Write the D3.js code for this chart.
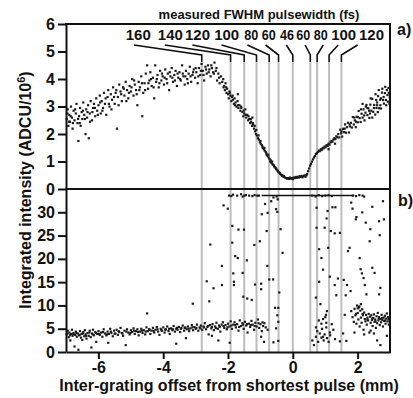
<!DOCTYPE html>
<html>
<head>
<meta charset="utf-8">
<script src="https://cdn.jsdelivr.net/npm/d3@7"></script>
<style>
  body { margin: 0; background: #fff; }
  svg { display: block; font-family: "Liberation Sans", Arial, sans-serif; }
  .tick text { font-weight: bold; font-size: 16px; fill: #111; }
</style>
</head>
<body>
<div id="chart"></div>
<script>
// measured FWHM pulse widths and the grating offsets (mm) where they were taken
var pulseLabels = ["160","140","120","100","80","60","46","60","80","100","120"];
var pulseOffsets = [-2.81,-1.92,-1.5,-1.12,-0.73,-0.44,0,0.54,0.75,1.12,1.5];

var xTicks = [-6,-4,-2,0,2];
var yTicksA = [0,1,2,3,4,5,6];
var yTicksB = [0,5,10,15,20,25,30];

// detector saturation level in panel b
var satLevel = 33.6;
var satRange = [-0.96, 1.9];

// panel a: integrated intensity (ADCU/10^6) vs offset (mm)
var pointsA = [
[-6.98,2.55],[-6.95,2.9],[-6.93,2.3],[-6.9,2.7],[-6.88,2.45],[-6.85,3.0],[-6.82,2.6],[-6.8,2.2],[-6.77,2.85],[-6.74,2.5],[-6.7,2.75],[-6.68,3.1],[-6.65,2.4],[-6.62,1.75],[-6.6,2.65],[-6.57,2.95],[-6.55,2.3],[-6.52,2.8],[-6.5,2.55],[-6.47,3.15],[-6.44,2.7],[-6.4,2.0],[-6.38,2.9],[-6.35,2.6],[-6.32,3.05],[-6.3,1.85],[-6.27,2.75],[-6.24,3.2],[-6.2,2.5],[-6.17,2.95],[-6.14,3.1],[-6.1,2.65],[-6.07,3.3],[-6.04,2.85],[-6.0,3.05],[-5.96,3.4],[-5.93,2.75],[-5.9,3.2],[-5.86,2.95],[-5.83,3.5],[-5.8,3.1],[-5.76,2.7],[-5.72,3.35],[-5.7,3.6],[-5.66,3.0],[-5.62,3.45],[-5.58,3.25],[-5.55,3.7],[-5.5,3.1],[-5.47,3.5],[-5.43,2.2],[-5.4,3.35],[-5.36,3.8],[-5.32,3.55],[-5.28,3.2],[-5.24,3.7],[-5.2,3.4],[-5.16,3.9],[-5.12,3.6],[-5.08,3.3],[-5.04,3.75],[-5.0,3.55],[-4.96,4.0],[-4.92,3.4],[-4.88,3.8],[-4.84,3.6],[-4.8,3.05],[-4.76,3.9],[-4.72,3.7],[-4.68,4.1],[-4.65,2.65],[-4.62,3.5],[-4.58,3.85],[-4.54,4.2],[-4.5,4.5],[-4.47,3.65],[-4.43,3.95],[-4.4,4.25],[-4.36,3.75],[-4.32,4.05],[-4.28,3.3],[-4.25,4.5],[-4.22,3.9],[-4.18,4.15],[-4.14,3.7],[-4.1,4.3],[-4.06,3.95],[-4.02,4.1],[-3.98,3.8],[-3.94,4.35],[-3.9,4.0],[-3.86,4.2],[-3.82,3.6],[-3.78,4.1],[-3.74,4.4],[-3.7,3.9],[-3.66,4.15],[-3.62,4.3],[-3.58,3.75],[-3.54,4.05],[-3.5,4.25],[-3.46,3.95],[-3.42,4.5],[-3.38,4.1],[-3.34,3.8],[-3.3,4.3],[-3.26,4.0],[-3.22,4.2],[-3.18,4.45],[-3.14,3.9],[-3.1,4.15],[-3.06,4.35],[-3.02,4.05],[-2.98,4.25],[-2.94,3.85],[-2.9,4.4],[-2.86,4.15],[-2.82,4.55],[-2.78,4.3],[-2.74,3.95],[-2.7,4.45],[-2.66,4.2],[-2.62,4.5],[-2.58,4.35],[-2.54,4.1],[-2.5,4.4],[-2.46,4.25],[-2.42,4.6],[-2.38,4.3],[-2.34,3.95],[-2.3,4.2],[-2.26,3.85],[-2.22,4.1],
[-6.96,2.75],[-6.91,2.45],[-6.86,2.65],[-6.79,2.4],[-6.72,2.9],[-6.63,2.55],[-6.58,2.4],[-6.48,2.85],[-6.42,2.55],[-6.34,2.8],[-6.26,2.45],[-6.19,2.8],[-6.11,2.95],[-6.02,2.7],[-5.95,3.15],[-5.88,2.85],[-5.78,3.3],[-5.68,3.1],[-5.6,2.9],[-5.52,3.35],[-5.45,3.6],[-5.38,3.05],[-5.3,3.45],[-5.22,3.65],[-5.14,3.2],[-5.06,3.5],[-4.98,3.7],[-4.9,3.95],[-4.82,3.45],[-4.74,3.6],[-4.66,3.85],[-4.56,3.6],[-4.46,3.85],[-4.38,4.0],[-4.3,3.7],[-4.2,4.0],[-4.12,3.85],[-4.04,4.2],[-3.96,4.05],[-3.88,3.85],[-3.8,4.25],[-3.72,4.05],[-3.64,3.95],[-3.56,4.2],[-3.48,4.0],[-3.4,4.2],[-3.32,4.1],[-3.24,3.85],[-3.16,4.1],[-3.08,4.25],[-3.0,4.4],[-2.92,4.1],[-2.84,4.3],[-2.76,4.15],[-2.68,4.35],[-2.6,4.25],[-2.52,4.5],[-2.44,4.2],[-2.36,4.4],[-2.28,4.05],
[-2.18,3.9],[-2.15,4.0],[-2.12,3.75],[-2.1,3.6],[-2.08,3.85],[-2.05,3.5],[-2.03,3.65],[-2.0,3.45],[-1.98,3.3],[-1.96,3.55],[-1.93,3.4],[-1.9,3.2],[-1.88,3.35],[-1.85,3.25],[-1.82,3.1],[-1.8,3.3],[-1.77,3.15],[-1.74,3.0],[-1.71,3.2],[-1.68,2.95],[-1.65,3.05],[-1.62,2.85],[-1.59,2.95],[-1.56,2.8],[-1.53,2.65],[-1.5,2.75],[-1.47,2.9],[-1.44,2.6],[-1.41,2.7],[-1.38,2.5],[-1.35,2.55],[-1.32,2.4],[-1.29,2.45],[-1.26,2.3],[-1.23,2.35],[-1.2,2.2],[-1.17,2.1],[-1.14,2.0],[-1.11,1.95],[-1.08,1.85],[-1.05,1.8],[-1.02,1.7],[-0.99,1.65],[-0.96,1.6],[-0.93,1.5],[-0.9,1.45],[-0.87,1.4],[-0.84,1.35],[-0.81,1.25],[-0.78,1.2],[-0.75,1.15],[-0.72,1.1],[-0.69,1.05],[-0.66,0.95],[-0.63,0.9],[-0.6,0.88],[-0.57,0.8],[-0.54,0.78],[-0.51,0.72],[-0.48,0.68],[-0.45,0.62],[-0.42,0.6],[-0.39,0.55],[-0.36,0.52],[-0.33,0.5],[-0.3,0.46],[-0.27,0.44],[-0.24,0.42],[-0.21,0.4],[-0.18,0.38],
[-2.14,3.7],[-2.06,3.7],[-1.95,3.5],[-1.86,3.4],[-1.79,3.05],[-1.7,3.05],[-1.6,3.0],[-1.52,2.85],[-1.46,2.7],[-1.37,2.65],[-1.3,2.55],[-1.24,2.4],[-1.18,2.3],[-1.13,2.15],[-1.06,1.95],[-1.0,1.75],[-0.94,1.55],[-0.88,1.5],[-0.82,1.3],[-0.76,1.25],[-0.7,1.0],[-0.64,1.0],[-0.58,0.85],[-0.52,0.75],[-0.46,0.65],[-0.4,0.58],[-0.34,0.48],[-0.28,0.48],[-1.25,2.6],[-1.7,3.45],
[-0.15,0.4],[-0.12,0.37],[-0.09,0.42],[-0.06,0.38],[-0.03,0.4],[0.0,0.36],[0.03,0.42],[0.06,0.4],[0.09,0.44],[0.12,0.41],[0.15,0.45],[0.18,0.42],[0.21,0.47],[0.24,0.44],[0.27,0.48],[0.3,0.43],[0.33,0.47],[0.36,0.5],[0.39,0.45],[0.42,0.5],
[0.44,0.55],[0.47,0.65],[0.5,0.75],[0.53,0.85],[0.56,0.92],[0.59,1.0],[0.62,1.08],[0.65,1.15],[0.68,1.2],[0.71,1.28],[0.74,1.3],[0.77,1.35],[0.8,1.4],[0.83,1.38],[0.86,1.45],[0.89,1.42],[0.92,1.5],[0.95,1.48],[0.98,1.55],[1.01,1.52],[1.04,1.6],[1.07,1.57],[1.1,1.65],[1.13,1.62],[1.16,1.7],[1.19,1.75],[1.22,1.72],[1.25,1.8],[1.28,1.85],[1.31,1.82],[1.34,1.92],[1.37,1.88],
[1.4,2.0],[1.43,1.88],[1.46,2.16],[1.49,2.03],[1.52,1.91],[1.55,2.19],[1.58,2.07],[1.61,2.35],[1.64,2.05],[1.67,2.25],[1.7,2.41],[1.73,2.06],[1.76,2.28],[1.79,2.41],[1.82,2.24],[1.85,2.62],[1.88,2.35],[1.91,2.5],[1.94,2.25],[1.97,2.63],[2.0,2.43],[2.03,2.84],[2.06,2.58],[2.09,2.44],[2.12,2.74],[2.15,2.6],[2.18,2.9],[2.21,2.5],[2.24,2.78],[2.27,3.06],[2.3,2.69],[2.33,2.94],[2.36,2.59],[2.39,3.07],[2.42,2.85],[2.45,3.28],[2.48,2.81],[2.51,3.06],[2.54,2.71],[2.57,3.24],[2.6,3.05],[2.63,3.38],[2.66,2.94],[2.69,3.25],[2.72,2.93],[2.75,3.51],[2.78,3.24],[2.81,3.11],[2.84,3.49],[2.87,3.24],[2.9,3.6],[2.93,3.18],[2.96,3.5],[2.99,3.33],
[1.5,2.1],[1.6,2.2],[1.75,2.35],[1.9,2.6],[2.0,2.62],[2.1,2.9],[2.2,2.68],[2.25,3.0],[2.35,2.85],[2.4,3.3],[2.5,2.95],[2.55,3.45],[2.6,3.15],[2.65,3.6],[2.7,3.05],[2.76,3.65],[2.8,3.35],[2.85,3.72],[2.88,3.05],[2.95,3.68],[2.98,3.1],[2.3,2.95],[1.3,1.65],[1.1,1.45],[2.45,2.6],[2.62,2.8],[1.95,2.45],[2.15,3.1],[2.38,2.75],[2.58,2.95],[2.72,3.3],[2.92,3.42]
];

// panel b: integrated intensity, second detector
var pointsB = [
[-6.98,3.8],[-6.95,4.6],[-6.92,3.2],[-6.9,4.2],[-6.87,2.5],[-6.85,3.9],[-6.82,4.8],[-6.8,3.5],[-6.77,4.1],[-6.74,1.2],[-6.72,3.7],[-6.7,4.4],[-6.67,3.3],[-6.64,4.0],[-6.62,0.5],[-6.6,3.6],[-6.57,4.5],[-6.54,3.1],[-6.52,3.9],[-6.5,2.6],[-6.47,4.3],[-6.44,3.4],[-6.42,4.7],[-6.4,3.8],[-6.37,2.9],[-6.34,4.1],[-6.3,3.5],[-6.27,4.6],[-6.24,3.2],[-6.2,4.0],[-6.17,4.8],[-6.14,3.6],[-6.1,4.3],[-6.07,2.2],[-6.04,3.9],[-6.0,4.5],[-5.96,3.7],[-5.92,4.2],[-5.88,3.3],[-5.84,4.9],[-5.8,4.0],[-5.76,3.6],[-5.72,4.4],[-5.68,3.9],[-5.64,5.0],[-5.6,4.1],[-5.56,3.4],[-5.52,4.6],[-5.48,4.0],[-5.44,4.8],[-5.4,3.7],[-5.36,4.3],[-5.32,5.2],[-5.28,4.1],[-5.24,3.5],[-5.2,4.6],[-5.16,1.5],[-5.12,4.9],[-5.08,4.2],[-5.04,3.8],[-5.0,4.7],[-4.96,4.3],[-4.92,5.1],[-4.88,3.9],[-4.84,4.5],[-4.8,4.9],[-4.76,3.6],[-4.72,4.4],[-4.68,5.0],[-4.64,4.1],[-4.6,4.7],[-4.56,3.8],[-4.52,5.3],[-4.5,8.3],[-4.48,4.5],[-4.44,4.9],[-4.4,3.9],[-4.36,4.6],[-4.32,5.2],[-4.28,4.2],[-4.24,4.8],[-4.2,5.4],[-4.16,4.4],[-4.12,3.7],[-4.08,5.0],[-4.04,4.6],[-4.0,5.3],[-3.96,4.2],[-3.92,4.9],[-3.88,5.5],[-3.84,4.5],[-3.8,3.9],[-3.76,5.1],[-3.72,4.7],[-3.68,5.6],[-3.64,4.4],[-3.6,5.0],[-3.56,4.8],[-3.52,5.4],[-3.48,4.3],[-3.44,5.2],[-3.4,5.7],[-3.36,4.6],[-3.32,5.3],[-3.28,4.9],[-3.24,5.5],[-3.2,4.5],[-3.16,5.1],[-3.12,5.8],[-3.08,4.7],[-3.04,5.4],[-3.0,5.0],[-2.96,5.9],[-2.92,4.6],[-2.88,5.3],[-2.84,5.7],[-2.8,4.8],[-2.76,5.5],[-2.72,6.2],[-2.68,4.9],[-2.64,5.4],[-2.6,3.8],[-2.56,5.8],[-2.52,5.1],[-2.48,6.0],[-2.44,4.7],[-2.4,5.5],[-2.36,6.3],[-2.32,5.0],[-2.28,5.7],[-2.24,4.4],[-2.2,5.9],[-2.16,6.4],[-2.12,5.2],[-2.08,5.8],[-2.04,4.9],[-2.0,6.1],[-1.96,5.5],[-1.92,6.6],[-1.88,5.0],[-1.84,5.9],[-1.8,6.4],[-1.76,5.3],[-1.72,6.0],[-1.68,4.6],[-1.64,6.8],[-1.6,5.6],[-1.56,6.2],[-1.52,5.0],[-1.48,6.5],[-1.44,5.7],[-1.4,4.2],[-1.36,6.1],[-1.32,5.4],[-1.28,6.7],[-1.24,5.9],[-1.2,4.8],[-1.16,6.3],[-1.12,5.5],[-1.08,7.0],[-1.04,5.2],[-1.0,6.0],[-0.96,4.5],[-0.92,5.6],[-0.88,6.2],
[-6.96,4.0],[-6.88,3.6],[-6.78,3.9],[-6.68,4.1],[-6.58,3.7],[-6.48,4.0],[-6.38,3.5],[-6.28,4.2],[-6.18,3.8],[-6.08,4.1],[-5.98,3.9],[-5.86,4.3],[-5.74,3.8],[-5.62,4.4],[-5.5,3.9],[-5.38,4.5],[-5.26,4.0],[-5.14,4.4],[-5.02,4.1],[-4.9,4.6],[-4.78,4.3],[-4.66,4.6],[-4.54,4.4],[-4.42,4.8],[-4.3,4.5],[-4.18,4.9],[-4.06,4.7],[-3.94,4.8],[-3.82,5.0],[-3.7,4.9],[-3.58,5.2],[-3.46,5.0],[-3.34,5.2],[-3.22,5.0],[-3.1,5.3],[-2.98,5.2],[-2.86,5.1],[-2.74,5.3],[-2.62,5.6],[-2.5,5.4],[-2.38,5.2],[-2.26,5.4],[-2.14,5.6],[-2.02,5.3],[-1.9,5.7],[-1.78,5.8],[-1.66,5.4],[-1.54,5.9],[-1.42,6.0],[-1.3,5.8],[-1.18,5.6],[-1.06,6.2],[-0.94,6.4],[-0.84,5.3],
[-6.22,1.0],[-5.7,2.0],[-3.6,1.8],[-3.3,3.0],[-2.3,2.5],[-1.95,2.0],[-2.5,3.5],[-0.6,2.1],[-0.98,3.3],[-0.78,4.8],
[-2.55,23.1],[-2.66,15.2],[-2.58,10.9],[-3.09,10.4],[-2.19,18.5],[-2.19,14.4],[-2.45,13.7],[-2.14,31.5],[-2.01,30.8],[-1.87,27.1],[-1.87,23.5],[-1.78,20.6],[-1.7,20.2],[-1.84,16.9],[-1.82,15.1],[-1.82,14.4],[-1.68,26.3],[-1.51,26.3],[-1.55,17.0],[-1.53,11.9],[-1.42,19.7],[-1.41,11.5],[-1.27,11.2],[-1.19,23.0],[-1.17,14.5],[-1.02,23.8],[-0.98,14.7],[-0.98,13.5],[-0.96,29.6],[-0.86,31.8],[-0.78,29.9],[-0.81,26.0],[-0.79,18.5],[-0.73,15.6],[-0.61,15.6],[-0.67,32.4],[-0.52,30.7],[-0.48,30.1],[-0.47,32.8],[-0.38,26.4],[-0.32,21.3],[-0.42,12.8],[-0.45,9.5],[-0.55,9.5],[-0.48,7.9],[-0.45,6.5],[-0.52,5.1],[-0.45,2.4],[-0.89,2.2],
[0.73,31.0],[0.73,26.7],[0.71,11.7],[0.81,22.1],[0.81,15.1],[0.88,20.2],[0.93,17.7],[0.98,26.7],[1.04,28.7],[1.07,30.3],[1.09,22.4],[1.14,16.2],[1.17,26.0],[1.22,31.1],[1.31,31.1],[1.29,25.5],[1.39,15.8],[1.29,14.4],[1.34,12.2],[1.45,25.6],[1.57,15.5],[1.63,12.2],[1.67,14.4],[1.7,21.7],[1.75,22.4],[1.78,13.1],[1.84,30.8],[1.94,28.5],[1.8,32.1],[1.96,29.0],[2.06,20.2],[2.09,17.8],[2.13,16.9],[2.18,15.9],[2.22,14.4],[2.27,12.4],[2.14,30.0],[2.25,27.8],[2.39,26.4],[2.37,23.8],[2.45,31.2],[2.52,17.0],[2.66,28.1],[2.68,25.1],[2.7,13.8],[2.66,12.4],[2.78,32.4],[2.81,28.5],[2.45,18.1],
[0.71,3.3],[0.78,2.2],[0.83,4.0],[0.88,3.1],[0.93,3.3],[0.98,3.8],[1.03,5.3],[0.88,6.1],[0.93,7.1],[1.02,8.0],[1.03,6.3],[0.85,10.3],[1.05,8.8],[0.71,5.3],[1.1,2.2],[1.14,4.2],[0.6,2.5],[0.65,1.5],[0.75,4.5],[0.8,6.8],[0.9,5.0],[0.95,2.5],[1.0,7.5],[1.05,3.0],[1.15,3.6],[1.2,6.0],[1.25,4.8],[1.3,2.8],[1.45,2.3],[1.55,4.0],[1.6,8.0],[1.65,2.4],
[1.8,8.8],[1.84,7.5],[1.88,6.5],[1.9,9.3],[1.93,7.9],[1.96,6.1],[1.98,10.0],[2.0,8.4],[2.02,7.0],[2.04,9.6],[2.06,5.5],[2.08,8.9],[2.1,7.4],[2.12,6.3],[2.14,9.2],[2.16,7.9],[2.18,4.8],[2.2,8.5],[2.22,7.1],[2.24,6.6],[2.26,8.0],[2.28,5.9],[2.3,7.4],[2.32,6.8],[2.34,8.2],[2.36,4.2],[2.38,7.6],[2.4,6.3],[2.42,7.9],[2.44,6.9],[2.46,5.6],[2.48,7.3],[2.5,8.1],[2.52,6.5],[2.54,7.0],[2.56,5.2],[2.58,7.7],[2.6,6.2],[2.62,8.4],[2.64,6.8],[2.66,7.5],[2.68,5.8],[2.7,7.1],[2.72,6.4],[2.74,8.0],[2.76,6.9],[2.78,5.5],[2.8,7.4],[2.82,6.7],[2.84,7.8],[2.86,6.1],[2.88,7.2],[2.9,8.3],[2.92,6.6],[2.94,7.5],[2.96,5.9],[2.98,7.0],[2.99,6.4],
[2.05,9.8],[2.1,10.3],[2.0,9.4],[1.95,8.2],[2.15,8.2],[2.3,7.0],[2.45,7.2],[2.55,6.6],[2.65,7.2],[2.75,7.3],[2.85,6.8],[2.95,7.1],[2.6,2.5],[2.2,3.8],[2.4,4.6],[2.7,1.5],[1.9,4.2],[2.9,3.5],[2.5,4.0],
[-1.97,33.6],[-1.9,33.5],[-1.85,33.8],[-1.72,33.6],[-1.6,33.9],[-1.55,33.4],[-1.5,33.6],[-1.45,33.7],[-1.35,33.6],[-1.25,33.5],[-1.18,33.7],[-1.1,33.6],[-1.05,33.6],[-0.6,33.2],[-0.5,33.4],[0.6,33.6],[0.7,33.4],[0.8,33.7],[0.9,33.5],[1.0,33.6],[1.1,33.7],[1.2,33.5],[1.85,33.6],[1.95,33.5],[2.05,33.7],[2.15,33.6],[2.2,33.4]
];

var W = 413, H = 398;
var plotL = 66, plotR = 390, plotT = 24, plotMid = 189, plotB = 352;

var svg = d3.select("#chart").append("svg")
    .attr("width", W).attr("height", H);

var x = d3.scaleLinear().domain([-7, 3]).range([plotL, plotR]);
var ya = d3.scaleLinear().domain([0, 6]).range([plotMid, plotT]);
var yb = d3.scaleLinear().domain([0, 35]).range([plotB, plotMid]);

// where the pulse-width labels sit (data units) and their leader geometry
var labelPos = [-4.77,-3.78,-2.94,-2.04,-1.28,-0.74,-0.18,0.32,0.86,1.57,2.43];
var leaderStart = [-4.9,-3.95,-3.1,-2.2,-1.4,-0.84,-0.2,0.38,0.94,1.4,2.0];

// gray marker lines through both panels
svg.append("g").selectAll("line")
    .data(pulseOffsets).enter().append("line")
    .attr("x1", function(d){ return x(d); })
    .attr("x2", function(d){ return x(d); })
    .attr("y1", 62).attr("y2", plotB)
    .attr("stroke", "#bdbdbd").attr("stroke-width", 2);

// black leaders from the labels
svg.append("g").selectAll("polyline")
    .data(pulseOffsets).enter().append("polyline")
    .attr("points", function(d, i){
        return x(leaderStart[i]) + ",45 " + x(d) + ",55 " + x(d) + ",62";
    })
    .attr("fill", "none").attr("stroke", "#111").attr("stroke-width", 1.6);

svg.append("g").selectAll("text")
    .data(pulseLabels).enter().append("text")
    .attr("x", function(d, i){ return x(labelPos[i]); })
    .attr("y", 40)
    .attr("text-anchor", "middle")
    .attr("textLength", function(d){ return d.length == 3 ? 25 : 14; })
    .attr("lengthAdjust", "spacingAndGlyphs")
    .style("font-weight", "bold").style("font-size", "14.5px").style("fill", "#111")
    .text(function(d){ return d; });

svg.append("text")
    .attr("x", 259).attr("y", 19)
    .attr("text-anchor", "middle")
    .style("font-weight", "bold").style("font-size", "13px").style("fill", "#111")
    .text("measured FWHM pulsewidth (fs)");

// saturation line
svg.append("line")
    .attr("x1", x(satRange[0])).attr("x2", x(satRange[1]))
    .attr("y1", yb(satLevel)).attr("y2", yb(satLevel))
    .attr("stroke", "#111").attr("stroke-width", 1.6);

// points
svg.append("g").selectAll("rect")
    .data(pointsA).enter().append("rect")
    .attr("x", function(d){ return x(d[0]) - 1; })
    .attr("y", function(d){ return ya(d[1]) - 1; })
    .attr("width", 2.2).attr("height", 2.2)
    .attr("fill", "#1a1a1a");

svg.append("g").selectAll("rect")
    .data(pointsB).enter().append("rect")
    .attr("x", function(d){ return x(d[0]) - 1; })
    .attr("y", function(d){ return yb(d[1]) - 1; })
    .attr("width", 2.2).attr("height", 2.2)
    .attr("fill", "#1a1a1a");

// axes
var axA = svg.append("g").attr("transform", "translate(" + plotL + ",0)")
    .call(d3.axisLeft(ya).tickValues(yTicksA).tickSize(8).tickSizeOuter(0).tickPadding(3)
    .tickFormat(d3.format("d")));
var axB = svg.append("g").attr("transform", "translate(" + plotL + ",0)")
    .call(d3.axisLeft(yb).tickValues(yTicksB).tickSize(8).tickSizeOuter(0).tickPadding(3)
    .tickFormat(d3.format("d")));
var axX = svg.append("g").attr("transform", "translate(0," + plotB + ")")
    .call(d3.axisBottom(x).tickValues(xTicks).tickSize(7).tickSizeOuter(0).tickPadding(3)
    .tickFormat(function(d){ return d < 0 ? "-" + Math.abs(d) : d; }));

[axA, axB, axX].forEach(function(a){
    a.selectAll("path, line").attr("stroke", "#111").attr("stroke-width", 2);
});

// frame: top, right and the panel divider
svg.append("line").attr("x1", plotL - 1).attr("x2", plotR + 1).attr("y1", plotT).attr("y2", plotT)
    .attr("stroke", "#111").attr("stroke-width", 2);
svg.append("line").attr("x1", plotR).attr("x2", plotR).attr("y1", plotT).attr("y2", plotB + 1)
    .attr("stroke", "#111").attr("stroke-width", 2);
svg.append("line").attr("x1", plotL).attr("x2", plotR).attr("y1", plotMid).attr("y2", plotMid)
    .attr("stroke", "#111").attr("stroke-width", 2);

svg.append("text").attr("x", 397).attr("y", 35)
    .style("font-size", "16px").style("font-weight", "bold").style("fill", "#111").text("a)");
svg.append("text").attr("x", 398).attr("y", 206)
    .style("font-size", "16px").style("font-weight", "bold").style("fill", "#111").text("b)");

// axis titles
svg.append("text")
    .attr("x", 229).attr("y", 391)
    .attr("text-anchor", "middle")
    .style("font-weight", "bold").style("font-size", "16px").style("fill", "#111")
    .text("Inter-grating offset from shortest pulse (mm)");

var yt = svg.append("text")
    .attr("transform", "translate(31,190) rotate(-90)")
    .attr("text-anchor", "middle")
    .style("font-weight", "bold").style("font-size", "16px").style("fill", "#111");
yt.append("tspan").text("Integrated intensity (ADCU/10");
yt.append("tspan").attr("dy", -6).style("font-size", "11px").text("6");
yt.append("tspan").attr("dy", 6).text(")");
</script>
</body>
</html>
